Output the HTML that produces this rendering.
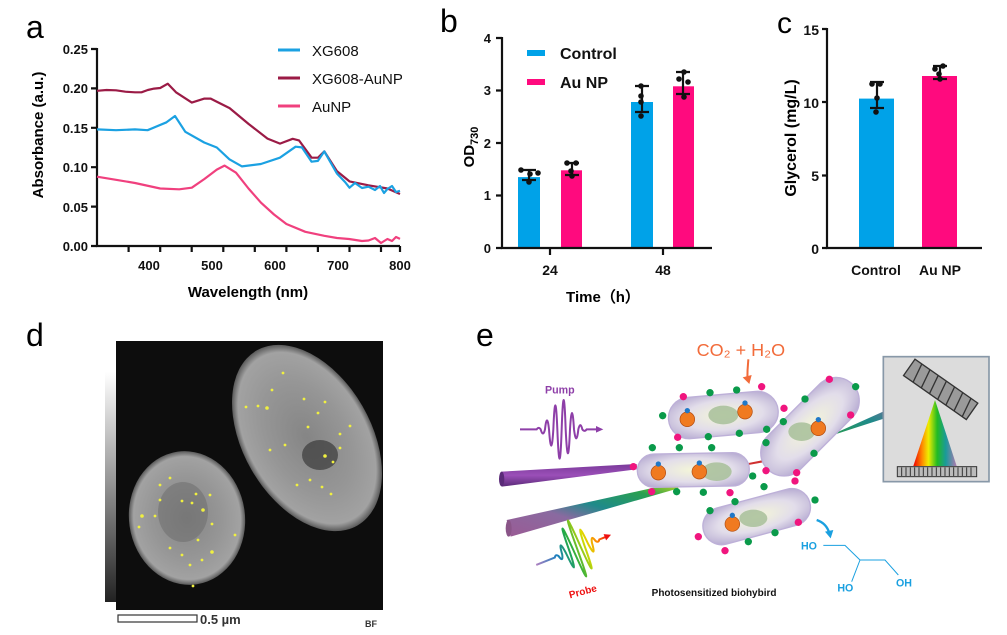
<!DOCTYPE html>
<html><head><meta charset="utf-8"><style>
body{margin:0;background:#fff;}
svg text{font-family:"Liberation Sans",Arial,sans-serif;}
</style></head><body>
<svg width="1007" height="630" viewBox="0 0 1007 630" xmlns="http://www.w3.org/2000/svg">
<defs>
<radialGradient id="cellg" cx="50%" cy="50%" r="50%"><stop offset="0" stop-color="#858585"/><stop offset="0.6" stop-color="#969696"/><stop offset="0.92" stop-color="#a2a2a2"/><stop offset="1" stop-color="#5a5a5a"/></radialGradient>
<linearGradient id="cbar" x1="0" y1="0" x2="0" y2="1"><stop offset="0" stop-color="#fff"/><stop offset="1" stop-color="#222"/></linearGradient>
<radialGradient id="bact" cx="50%" cy="50%" r="60%"><stop offset="0" stop-color="#f4f6d8"/><stop offset="0.6" stop-color="#e2ddea"/><stop offset="1" stop-color="#b9aed3"/></radialGradient>
<linearGradient id="probeb" x1="0" y1="1" x2="1" y2="0"><stop offset="0" stop-color="#9a5b95"/><stop offset="0.35" stop-color="#8a6aa0"/><stop offset="0.55" stop-color="#1f8a8a"/><stop offset="0.8" stop-color="#2aa050"/><stop offset="1" stop-color="#c8d820"/></linearGradient>
<linearGradient id="rightb" x1="0" y1="1" x2="1" y2="0"><stop offset="0" stop-color="#2aa040"/><stop offset="0.4" stop-color="#1f8a8a"/><stop offset="0.7" stop-color="#8b6aa0"/><stop offset="1" stop-color="#b070a8"/></linearGradient>
<linearGradient id="spec" x1="0" y1="0" x2="1" y2="0"><stop offset="0" stop-color="#e00"/><stop offset="0.2" stop-color="#f80"/><stop offset="0.35" stop-color="#ee0"/><stop offset="0.55" stop-color="#2b2"/><stop offset="0.75" stop-color="#1a9a9a"/><stop offset="1" stop-color="#b07ab0"/></linearGradient>
<linearGradient id="pumpb" x1="0" y1="0" x2="0" y2="1"><stop offset="0" stop-color="#7a3a9a"/><stop offset="0.5" stop-color="#9b4fb8"/><stop offset="1" stop-color="#5a2a78"/></linearGradient>
<linearGradient id="rainbow" x1="0" y1="0" x2="1" y2="0"><stop offset="0" stop-color="#b080c0"/><stop offset="0.3" stop-color="#1a80c0"/><stop offset="0.5" stop-color="#22aa44"/><stop offset="0.7" stop-color="#dddd00"/><stop offset="0.85" stop-color="#ff8800"/><stop offset="1" stop-color="#ee1111"/></linearGradient>
</defs>

<text x="26" y="38" font-size="32">a</text>
<text x="440" y="32" font-size="32">b</text>
<text x="777" y="33" font-size="30">c</text>
<text x="26" y="346" font-size="32">d</text>
<text x="476" y="346" font-size="32">e</text>

<!-- Panel a -->
<g stroke="#111" stroke-width="2.2" fill="none">
<path d="M97,48 V246 H400"/>
<path d="M91,49H97M91,88.4H97M91,127.8H97M91,167.2H97M91,206.6H97M91,246H97"/>
<path d="M128.6,246v6M160.2,246v6M191.7,246v6M223.3,246v6M254.8,246v6M286.4,246v6M317.9,246v6M349.5,246v6M381,246v6M400,246v6"/>
</g>
<g font-size="13" font-weight="bold" text-anchor="end" fill="#111">
<text x="88" y="54">0.25</text><text x="88" y="93">0.20</text><text x="88" y="133">0.15</text><text x="88" y="172">0.10</text><text x="88" y="212">0.05</text><text x="88" y="251">0.00</text>
</g>
<g font-size="13" font-weight="bold" text-anchor="middle" fill="#111">
<text x="149" y="270">400</text><text x="212" y="270">500</text><text x="275" y="270">600</text><text x="338" y="270">700</text><text x="400" y="270">800</text>
</g>
<text x="248" y="297" font-size="15" font-weight="bold" text-anchor="middle">Wavelength (nm)</text>
<text transform="translate(43,135) rotate(-90)" font-size="15" font-weight="bold" text-anchor="middle">Absorbance (a.u.)</text>
<g fill="none" stroke-width="2.2" stroke-linejoin="round">
<polyline stroke="#9b1b46" points="97,90.8 106.5,90.0 116,90.3 125.4,91.7 135,92.3 141.5,92.3 147.8,90.0 154.1,88.6 160.2,88.0 167.8,83.7 176,92.3 191.8,102.6 204.4,98.6 210.7,98.6 216.1,101.4 229.6,108.1 248.5,123.9 267.5,138.6 280,143.6 292.7,138.8 299,140.4 311.6,157.7 318,157.7 324.3,151.4 336.9,171.1 349.5,181.4 368.5,185.3 387.4,188.5 400,194"/>
<polyline stroke="#1ba1e2" points="97,129.4 116,130.2 135,129.4 147.6,130.2 166.5,122.3 175,116 185.3,131.8 204.2,142.5 216.8,147.5 229.4,159.3 242,166.4 260.9,164.0 279.9,157.7 295.6,146.7 301.9,147.4 311.6,161.7 317.9,160.9 324.3,151.4 336.9,173.5 345,182 349.5,187.7 355,183 362,188 368.5,186.7 375,190 380,186 384,193 387.4,189 392,186 396,192 400,190.8"/>
<polyline stroke="#f0407e" points="97,176.7 116,179.8 135,183 160.2,188.5 179.2,189.3 191.8,187.7 204.4,179 216.8,169.6 224.5,165.6 236,172.7 248.5,188.5 261,202.7 274,214.5 286.4,224 305.3,231.8 324.3,235.8 337,238 349,239 362,241 368.5,240.5 375,238 381,243 387.4,239 392,241 396,237 400,238.9"/>
</g>
<g stroke-width="3"><line x1="278" y1="50" x2="300" y2="50" stroke="#1ba1e2"/><line x1="278" y1="78" x2="300" y2="78" stroke="#9b1b46"/><line x1="278" y1="106" x2="300" y2="106" stroke="#f0407e"/></g>
<g font-size="15" fill="#111"><text x="312" y="56">XG608</text><text x="312" y="84">XG608-AuNP</text><text x="312" y="112">AuNP</text></g>

<!-- Panel b -->
<g fill="#00a2e8"><rect x="518" y="177.1" width="22" height="70.9"/><rect x="631" y="102" width="22" height="146"/></g>
<g fill="#ff0a7e"><rect x="561" y="170.3" width="21" height="77.7"/><rect x="673" y="86.3" width="21" height="161.7"/></g>
<g stroke="#111" stroke-width="2.2" fill="none">
<path d="M502,37 V248 H712"/>
<path d="M496,38H502M496,90.5H502M496,143H502M496,195.5H502M496,248H502M550,248v7M663,248v7"/>
<path d="M529,170v10M522,170h14M522,180h14 M572,163v12M565,163h14M565,175h14 M642,86v26M635,86h14M635,112h14 M683,72v22M676,72h14M676,94h14"/>
</g>
<g fill="#111"><circle cx="521" cy="170" r="2.8"/><circle cx="529" cy="182" r="2.8"/><circle cx="538" cy="173" r="2.8"/><circle cx="530" cy="174" r="2.8"/>
<circle cx="567" cy="163" r="2.8"/><circle cx="576" cy="163" r="2.8"/><circle cx="571" cy="171" r="2.8"/><circle cx="572" cy="176" r="2.8"/>
<circle cx="641" cy="86" r="2.8"/><circle cx="641" cy="96" r="2.8"/><circle cx="641" cy="102" r="2.8"/><circle cx="641" cy="116" r="2.8"/>
<circle cx="679" cy="79" r="2.8"/><circle cx="688" cy="82" r="2.8"/><circle cx="684" cy="72" r="2.8"/><circle cx="684" cy="97" r="2.8"/></g>
<g font-size="13" font-weight="bold" text-anchor="end" fill="#111"><text x="491" y="43">4</text><text x="491" y="95">3</text><text x="491" y="148">2</text><text x="491" y="200">1</text><text x="491" y="253">0</text></g>
<g font-size="14" font-weight="bold" text-anchor="middle" fill="#111"><text x="550" y="275">24</text><text x="663" y="275">48</text></g>
<text x="603" y="302" font-size="15" font-weight="bold" text-anchor="middle">Time（h）</text>
<text transform="translate(474,147) rotate(-90)" font-size="15" font-weight="bold" text-anchor="middle">OD<tspan font-size="11" dy="4">730</tspan></text>
<rect x="527" y="50" width="18" height="6" fill="#00a2e8"/><rect x="527" y="79" width="18" height="6" fill="#ff0a7e"/>
<g font-size="16" font-weight="bold" fill="#111"><text x="560" y="59">Control</text><text x="560" y="88">Au NP</text></g>

<!-- Panel c -->
<rect x="859" y="98.6" width="35" height="149.4" fill="#00a2e8"/>
<rect x="922" y="76" width="35" height="172" fill="#ff0a7e"/>
<g stroke="#111" stroke-width="2.2" fill="none">
<path d="M827,28 V248 H982"/>
<path d="M822,29H827M822,102H827M822,175.5H827M822,248H827"/>
<path d="M877,82v26M870,82h14M870,108h14 M940,66v13M933,66h14M933,79h14"/>
</g>
<g fill="#111"><circle cx="872" cy="84" r="2.8"/><circle cx="880" cy="84" r="2.8"/><circle cx="877" cy="98" r="2.8"/><circle cx="876" cy="112" r="2.8"/>
<circle cx="935" cy="69" r="2.8"/><circle cx="943" cy="66" r="2.8"/><circle cx="939" cy="74" r="2.8"/><circle cx="940" cy="79" r="2.8"/></g>
<g font-size="14" font-weight="bold" text-anchor="end" fill="#111"><text x="819" y="35">15</text><text x="819" y="108">10</text><text x="819" y="181">5</text><text x="819" y="254">0</text></g>
<g font-size="14" font-weight="bold" text-anchor="middle" fill="#111"><text x="876" y="275">Control</text><text x="940" y="275">Au NP</text></g>
<text transform="translate(796,138) rotate(-90)" font-size="16" font-weight="bold" text-anchor="middle">Glycerol (mg/L)</text>

<!-- Panel d -->
<rect x="105" y="372" width="11" height="230" fill="url(#cbar)"/>
<rect x="116" y="341" width="267" height="269" fill="#0d0d0d"/>
<ellipse cx="187" cy="518" rx="58" ry="67" fill="url(#cellg)" transform="rotate(-8 187 518)"/>
<ellipse cx="307" cy="438" rx="64" ry="101" fill="url(#cellg)" transform="rotate(-30 307 438)"/>
<ellipse cx="183" cy="512" rx="25" ry="30" fill="#6a6a6a" opacity="0.5"/>
<ellipse cx="320" cy="455" rx="18" ry="15" fill="#3a3a3a" opacity="0.7"/>
<g fill="#f0f040">
<circle cx="170" cy="478" r="1.4"/><circle cx="160" cy="485" r="1.4"/><circle cx="182" cy="501" r="1.4"/><circle cx="192" cy="503" r="1.4"/><circle cx="203" cy="510" r="1.8"/><circle cx="196" cy="494" r="1.4"/><circle cx="142" cy="516" r="1.8"/><circle cx="155" cy="516" r="1.4"/><circle cx="210" cy="495" r="1.4"/><circle cx="212" cy="524" r="1.4"/><circle cx="170" cy="548" r="1.4"/><circle cx="182" cy="555" r="1.4"/><circle cx="212" cy="552" r="1.8"/><circle cx="202" cy="560" r="1.4"/><circle cx="190" cy="565" r="1.4"/><circle cx="235" cy="535" r="1.4"/><circle cx="160" cy="500" r="1.4"/><circle cx="193" cy="586" r="1.4"/><circle cx="198" cy="540" r="1.4"/><circle cx="139" cy="527" r="1.4"/>
<circle cx="283" cy="373" r="1.4"/><circle cx="272" cy="390" r="1.4"/><circle cx="267" cy="408" r="1.8"/><circle cx="246" cy="407" r="1.4"/><circle cx="258" cy="406" r="1.4"/><circle cx="304" cy="399" r="1.4"/><circle cx="318" cy="413" r="1.4"/><circle cx="325" cy="402" r="1.4"/><circle cx="308" cy="427" r="1.4"/><circle cx="285" cy="445" r="1.4"/><circle cx="270" cy="450" r="1.4"/><circle cx="325" cy="456" r="1.8"/><circle cx="333" cy="462" r="1.4"/><circle cx="340" cy="448" r="1.4"/><circle cx="297" cy="485" r="1.4"/><circle cx="310" cy="480" r="1.4"/><circle cx="322" cy="487" r="1.4"/><circle cx="331" cy="494" r="1.4"/><circle cx="350" cy="426" r="1.4"/><circle cx="340" cy="434" r="1.4"/>
</g>
<rect x="118" y="615" width="79" height="7" fill="#fff" stroke="#333" stroke-width="1.2"/>
<text x="200" y="624" font-size="13" font-weight="bold" fill="#333">0.5 µm</text>
<text x="365" y="627" font-size="9" font-weight="bold" fill="#333">BF</text>

<!-- Panel e -->
<g transform="translate(490,320) scale(0.33333)">
<polygon points="35,455 440,432 440,448 35,500" fill="url(#pumpb)"/>
<ellipse cx="35" cy="477" rx="8" ry="22" fill="#5a2a78"/>
<polygon points="50,600 560,488 565,505 62,650" fill="url(#probeb)"/>
<ellipse cx="56" cy="625" rx="9" ry="25" fill="#8a5588"/>
<polygon points="770,430 830,418 832,425 775,435" fill="#d03030"/>
<polygon points="990,360 1335,205 1340,245 998,355" fill="url(#rightb)"/>
<g stroke="#bdb0d8" stroke-width="4">
<rect x="-165" y="-62" width="330" height="124" rx="62" fill="url(#bact)" transform="translate(700,285) rotate(-5)"/>
<rect x="-168" y="-50" width="336" height="100" rx="50" fill="url(#bact)" transform="translate(610,450) rotate(-1)"/>
<rect x="-180" y="-70" width="360" height="140" rx="70" fill="url(#bact)" transform="translate(960,320) rotate(-45)"/>
<rect x="-165" y="-56" width="330" height="112" rx="56" fill="url(#bact)" transform="translate(800,590) rotate(-15)"/>
</g>
<g fill="#a8c09a" opacity="0.85"><ellipse cx="700" cy="285" rx="45" ry="28"/><ellipse cx="680" cy="455" rx="45" ry="28"/><ellipse cx="935" cy="335" rx="40" ry="28"/><ellipse cx="790" cy="595" rx="42" ry="26"/></g>
<g fill="#f07a20" stroke="#b04a10" stroke-width="2">
<circle cx="592" cy="298" r="22"/><circle cx="765" cy="275" r="22"/><circle cx="505" cy="458" r="22"/><circle cx="628" cy="455" r="22"/><circle cx="985" cy="325" r="22"/><circle cx="727" cy="612" r="22"/></g>
<g fill="#1f78c8"><circle cx="592" cy="272" r="8"/><circle cx="765" cy="249" r="8"/><circle cx="505" cy="432" r="8"/><circle cx="628" cy="429" r="8"/><circle cx="985" cy="299" r="8"/><circle cx="727" cy="586" r="8"/></g>
<g fill="#f0157e">
<circle cx="580" cy="230" r="11"/><circle cx="815" cy="200" r="11"/><circle cx="1018" cy="178" r="11"/><circle cx="882" cy="265" r="11"/><circle cx="1082" cy="285" r="11"/><circle cx="563" cy="352" r="11"/><circle cx="430" cy="440" r="11"/><circle cx="828" cy="452" r="11"/><circle cx="920" cy="458" r="11"/><circle cx="485" cy="515" r="11"/><circle cx="720" cy="518" r="11"/><circle cx="915" cy="483" r="11"/><circle cx="925" cy="607" r="11"/><circle cx="625" cy="650" r="11"/><circle cx="705" cy="692" r="11"/></g>
<g fill="#0a9a4a">
<circle cx="660" cy="218" r="11"/><circle cx="740" cy="210" r="11"/><circle cx="1097" cy="200" r="11"/><circle cx="518" cy="287" r="11"/><circle cx="945" cy="237" r="11"/><circle cx="880" cy="305" r="11"/><circle cx="830" cy="328" r="11"/><circle cx="748" cy="340" r="11"/><circle cx="655" cy="350" r="11"/><circle cx="487" cy="383" r="11"/><circle cx="568" cy="383" r="11"/><circle cx="665" cy="383" r="11"/><circle cx="828" cy="368" r="11"/><circle cx="972" cy="400" r="11"/><circle cx="788" cy="468" r="11"/><circle cx="560" cy="515" r="11"/><circle cx="640" cy="517" r="11"/><circle cx="822" cy="500" r="11"/><circle cx="735" cy="545" r="11"/><circle cx="660" cy="572" r="11"/><circle cx="975" cy="540" r="11"/><circle cx="855" cy="638" r="11"/><circle cx="775" cy="665" r="11"/></g>
<rect x="1180" y="110" width="317" height="375" fill="#dcdcdc" stroke="#8898a8" stroke-width="5"/>
<polygon points="1335,240 1270,438 1400,438" fill="url(#spec)"/>
<g transform="translate(1352,208) rotate(35)"><rect x="-115" y="-30" width="230" height="60" fill="#9a9a9a" stroke="#333" stroke-width="4"/>
<path d="M-90,-30 L-80,30 M-60,-30 L-50,30 M-30,-30 L-20,30 M0,-30 L10,30 M30,-30 L40,30 M60,-30 L70,30 M90,-30 L100,30" stroke="#333" stroke-width="4"/></g>
<rect x="1222" y="440" width="238" height="30" fill="#bbb" stroke="#333" stroke-width="3"/>
<path d="M1235,442v26M1248,442v26M1261,442v26M1274,442v26M1287,442v26M1300,442v26M1313,442v26M1326,442v26M1339,442v26M1352,442v26M1365,442v26M1378,442v26M1391,442v26M1404,442v26M1417,442v26M1430,442v26M1443,442v26" stroke="#333" stroke-width="3"/>
<text x="165" y="220" font-size="32" font-weight="bold" fill="#8e3fa8">Pump</text>
<path d="M90,328 L140,328 Q146,319 152,328 Q159,353 165,328 Q171,274 177,328 Q184,426 190,328 Q196,184 202,328 Q209,504 215,328 Q221,152 227,328 Q234,472 240,328 Q246,230 252,328 Q259,382 265,328 Q271,303 277,328 Q284,337 290,328 L330,328" fill="none" stroke="#8e3fa8" stroke-width="6"/>
<polygon points="340,328 318,318 318,338" fill="#8e3fa8"/>
<g transform="translate(250,690) rotate(-22)">
<path d="M-120,0 L-60,0 Q-54,-9 -48,0 Q-42,25 -36,0 Q-30,-54 -24,0 Q-18,98 -12,0 Q-6,-144 0,0 Q6,176 12,0 Q18,-176 24,0 Q30,144 36,0 Q42,-98 48,0 Q54,54 60,0 Q66,-25 72,0 Q78,9 84,0 L110,0" fill="none" stroke="url(#rainbow)" stroke-width="6"/>
<polygon points="122,0 102,-10 102,10" fill="#ee1111"/>
</g>
<text transform="translate(240,835) rotate(-15)" font-size="30" font-weight="bold" fill="#ee1111">Probe</text>
<text x="620" y="108" font-size="54" fill="#f26b3a">CO₂ + H₂O</text>
<path d="M775,118 Q772,150 772,180" stroke="#f26b3a" stroke-width="6" fill="none"/>
<polygon points="758,172 778,192 785,165" fill="#f26b3a"/>
<path d="M980,600 Q1010,610 1018,640" stroke="#1aa0e0" stroke-width="7" fill="none"/>
<polygon points="1005,635 1022,655 1030,630" fill="#1aa0e0"/>
<g stroke="#1aa0e0" stroke-width="3" fill="none"><path d="M1000,676 L1065,676 L1110,720 L1185,720 L1225,765 M1110,720 L1085,785"/></g>
<g font-size="32" font-weight="bold" fill="#1aa0e0"><text x="933" y="688">HO</text><text x="1042" y="815">HO</text><text x="1218" y="800">OH</text></g>
<text x="485" y="828" font-size="30" font-weight="bold" fill="#111">Photosensitized biohybird</text>
</g>
</svg>
</body></html>
